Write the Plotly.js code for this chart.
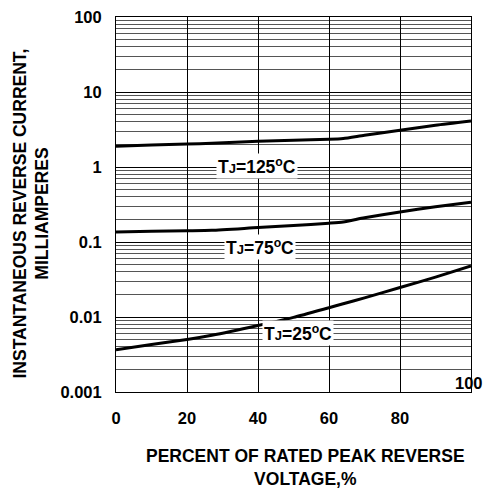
<!DOCTYPE html>
<html><head><meta charset="utf-8">
<script src="https://cdn.plot.ly/plotly-3.0.1.min.js"></script>
<style>html,body{margin:0;padding:0;background:#fff}#chart{width:499px;height:488px}</style>
</head><body><div id="chart"></div>
<script>
const voltagePct = [0, 10, 20, 27, 40, 50, 60, 64, 70, 80, 90, 100];
const current125 = [1.89, 1.96, 2.03, 2.07, 2.2, 2.27, 2.34, 2.4, 2.65, 3.08, 3.6, 4.1];
const current75  = [0.136, 0.139, 0.141, 0.143, 0.156, 0.166, 0.178, 0.185, 0.21, 0.251, 0.295, 0.34];
const current25  = [0.00367, 0.0043, 0.0050, 0.0057, 0.0077, 0.0099, 0.0133, 0.015, 0.018, 0.0247, 0.034, 0.0479];
const xTicks = [0, 20, 40, 60, 80, 100];
const xTickText = ['0', '20', '40', '60', '80', '100'];
const yTicks = [0.001, 0.01, 0.1, 1, 10, 100];
const yTickText = ['0.001', '0.01', '0.1', '1', '10', '100'];
const xTitle = 'PERCENT OF RATED PEAK REVERSE<br>VOLTAGE,%';
const yTitle = 'INSTANTANEOUS REVERSE CURRENT,<br>MILLIAMPERES';
const seriesLabels = ['T<span style="font-size:13px">J</span>=125<sup>o</sup>C', 'T<span style="font-size:13px">J</span>=75<sup>o</sup>C', 'T<span style="font-size:13px">J</span>=25<sup>o</sup>C'];
const labelPos = [[39.6, 1.03], [40.6, 0.087], [51.3, 0.0062]];

const F = 'Arial, "Liberation Sans", sans-serif';
const tickFont = {family: F, size: 16.5, color: '#000', weight: 'bold'};
const titleFont = {family: F, size: 17.5, color: '#000', weight: 'bold'};
const line = {color: '#000', width: 3, shape: 'spline', smoothing: 0.6};
const traces = [current125, current75, current25].map(y => ({
  x: voltagePct, y: y, type: 'scatter', mode: 'lines', line: line, hoverinfo: 'skip', showlegend: false
}));

const annotations = seriesLabels.map((t, i) => ({
  x: labelPos[i][0], y: Math.log10(labelPos[i][1]), xref: 'x', yref: 'y', text: t, showarrow: false,
  bgcolor: '#fff', borderpad: 1, font: titleFont
}));
// last x tick label sits raised in the reference
annotations.push({
  x: xTicks[5], y: 0, xref: 'x', yref: 'paper', yanchor: 'middle', yshift: 9, xshift: -2,
  text: xTickText[5], showarrow: false, font: tickFont
});
annotations.push({
  x: 0.5, y: 0, xref: 'paper', yref: 'paper', xanchor: 'center', yanchor: 'middle',
  xshift: 11.5, yshift: -75, text: xTitle, showarrow: false, font: titleFont
});
annotations.push({
  x: 0, y: 0.5, xref: 'paper', yref: 'paper', xanchor: 'center', yanchor: 'middle', textangle: -90,
  xshift: -85, yshift: -9, text: yTitle, showarrow: false, font: titleFont
});

const layout = {
  width: 499, height: 488,
  margin: {l: 116, r: 28, t: 17, b: 96},
  paper_bgcolor: '#fff', plot_bgcolor: '#fff',
  showlegend: false,
  font: {family: F, color: '#000'},
  xaxis: {
    range: [0, 100], tickvals: xTicks, ticktext: xTickText.slice(0, 5).concat(['']), ticks: '', ticklabelstandoff: 11,
    showgrid: true, gridcolor: '#000', gridwidth: 1,
    showline: true, linecolor: '#000', linewidth: 1, mirror: true, zeroline: false,
    tickfont: tickFont
  },
  yaxis: {
    type: 'log', range: [-3, 2], tickvals: yTicks, ticktext: yTickText, ticks: '', ticklabelstandoff: 10,
    showgrid: true, gridcolor: '#000', gridwidth: 1,
    minor: {showgrid: true, gridcolor: '#555', gridwidth: 1, dtick: 'D1', ticks: ''},
    showline: true, linecolor: '#000', linewidth: 1, mirror: true, zeroline: false,
    tickfont: tickFont
  },
  annotations: annotations
};
Plotly.newPlot('chart', traces, layout, {displayModeBar: false, staticPlot: true});
</script></body></html>
